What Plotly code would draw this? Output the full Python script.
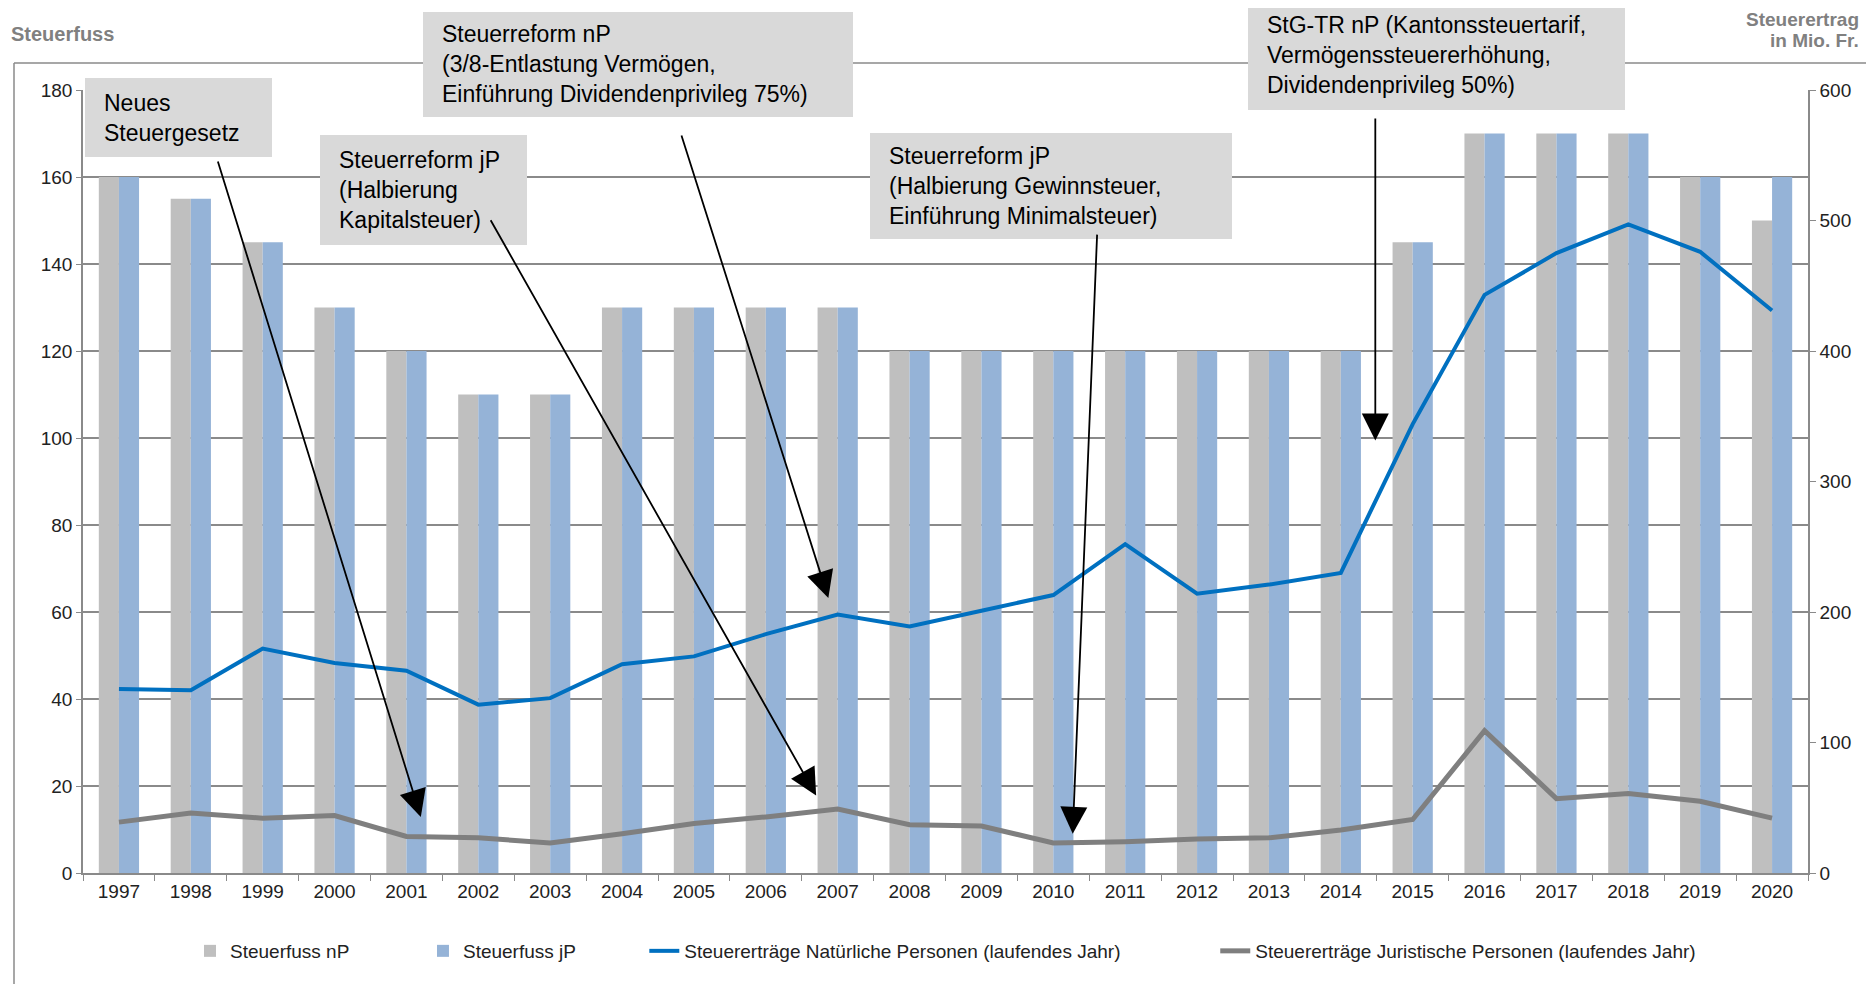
import plotly.graph_objects as go

years = [str(y) for y in range(1997, 2021)]
steuerfuss_np = [160, 155, 145, 130, 120, 110, 110, 130, 130, 130, 130, 120,
                 120, 120, 120, 120, 120, 120, 145, 170, 170, 170, 160, 150]
steuerfuss_jp = [160, 155, 145, 130, 120, 110, 110, 130, 130, 130, 130, 120,
                 120, 120, 120, 120, 120, 120, 145, 170, 170, 170, 160, 160]
ertrag_np = [141, 140, 172, 161, 155, 129, 134, 160, 166, 183, 198, 189,
             201, 213, 252, 214, 221, 230, 344, 443, 475, 497, 476, 431]
ertrag_jp = [39, 46, 42, 44, 28, 27, 23, 30, 38, 43, 49, 37,
             36, 23, 24, 26, 27, 33, 41, 109, 57, 61, 55, 42]

# annotation boxes: text, box in page pixels (x0, y0, x1, y1)
notes = [
    ("Neues<br>Steuergesetz", (85, 78, 272, 157)),
    ("Steuerreform jP<br>(Halbierung<br>Kapitalsteuer)", (320, 135, 527, 245)),
    ("Steuerreform nP<br>(3/8-Entlastung Vermögen,<br>Einführung Dividendenprivileg 75%)", (423, 12, 853, 117)),
    ("Steuerreform jP<br>(Halbierung Gewinnsteuer,<br>Einführung Minimalsteuer)", (870, 133, 1232, 239)),
    ("StG-TR nP (Kantonssteuertarif,<br>Vermögenssteuererhöhung,<br>Dividendenprivileg 50%)", (1248, 0, 1625, 110)),
]
# arrows: tail (category index, left-axis value) -> tip
arrows = [
    ((1.37, 163.9), (4.20, 12.9)),
    ((5.16, 150.4), (9.70, 17.8)),
    ((7.82, 169.9), (9.87, 63.2)),
    ((13.61, 147.1), (13.27, 9.0)),
    ((17.48, 173.8), (17.48, 99.4)),
]

# page is 1874x984, the figure div sits 8px in (body margin)
OFF = 8
W, H = 1874 - OFF, 984 - OFF
X0, X1, Y0, Y1 = 83, 1808, 90, 873   # plot area in page pixels
PW, PH = X1 - X0, Y1 - Y0


def px(x):
    return (x - X0) / PW


def py(y):
    return (Y1 - y) / PH


FONT = "Liberation Sans, Arial, sans-serif"
GRID = "#8a8a8a"
sp = "\u00a0"

fig = go.Figure()
fig.add_trace(go.Bar(x=years, y=steuerfuss_np, name="Steuerfuss nP" + sp * 13,
                     marker=dict(color="#bfbfbf", line=dict(width=0))))
fig.add_trace(go.Bar(x=years, y=steuerfuss_jp, name="Steuerfuss jP" + sp * 12,
                     marker=dict(color="#95b3d7", line=dict(width=0))))
fig.add_trace(go.Scatter(x=years, y=ertrag_np, yaxis="y2", mode="lines",
                         name="Steuererträge Natürliche Personen (laufendes Jahr)" + sp * 17,
                         line=dict(color="#0070c0", width=4)))
fig.add_trace(go.Scatter(x=years, y=ertrag_jp, yaxis="y2", mode="lines",
                         name="Steuererträge Juristische Personen (laufendes Jahr)",
                         line=dict(color="#7f7f7f", width=5)))

shapes = [
    dict(type="line", xref="paper", yref="paper", x0=px(14), x1=px(1900), y0=py(63), y1=py(63),
         line=dict(color=GRID, width=1.5)),
    dict(type="line", xref="paper", yref="paper", x0=px(14), x1=px(14), y0=py(63), y1=py(1000),
         line=dict(color=GRID, width=1.5)),
]
annotations = []
for text, (x0, y0, x1, y1) in notes:
    shapes.append(dict(type="rect", xref="paper", yref="paper", layer="above",
                       x0=px(x0), x1=px(x1), y0=py(y1), y1=py(y0),
                       fillcolor="#d9d9d9", line=dict(width=0)))
    annotations.append(dict(text=text, xref="paper", yref="paper", x=px(x0 + 17), y=py((y0 + y1) / 2),
                            xanchor="left", yanchor="middle", align="left", showarrow=False,
                            font=dict(family=FONT, size=23, color="#000000")))
for (ax, ay), (x, y) in arrows:
    annotations.append(dict(text="", x=x, y=y, ax=ax, ay=ay, xref="x", yref="y", axref="x", ayref="y",
                            showarrow=True, arrowhead=2, arrowsize=3.0, arrowwidth=1.8,
                            arrowcolor="#000000", standoff=0))

annotations.append(dict(text="<b>Steuerfuss</b>", xref="paper", yref="paper", x=px(9), y=py(34),
                        xanchor="left", yanchor="middle", showarrow=False,
                        font=dict(family=FONT, size=20, color="#808080")))
for line, ypos in (("Steuerertrag", 19), ("in Mio. Fr.", 40)):
    annotations.append(dict(text="<b>" + line + "</b>", xref="paper", yref="paper",
                            x=px(1861), y=py(ypos), xanchor="right", yanchor="middle",
                            showarrow=False, font=dict(family=FONT, size=19, color="#808080")))

fig.update_layout(
    width=W, height=H,
    margin=dict(l=X0 - OFF, r=W + OFF - X1, t=Y0 - OFF, b=H + OFF - Y1),
    paper_bgcolor="white", plot_bgcolor="white",
    barmode="group", bargap=0.44, bargroupgap=0,
    font=dict(family=FONT, color="#000000"),
    xaxis=dict(type="category", range=[-0.5, 23.5], tickson="boundaries", ticks="outside",
               ticklen=6, tickcolor=GRID, showline=True, linecolor=GRID, linewidth=1.5,
               tickfont=dict(size=19, color="#222222"), showgrid=False),
    yaxis=dict(range=[0, 180], dtick=20, ticks="outside", ticklen=5, tickcolor=GRID,
               showline=True, linecolor=GRID, linewidth=1.5, gridcolor=GRID, gridwidth=1.5,
               tickfont=dict(size=19, color="#222222"), zeroline=False),
    yaxis2=dict(range=[0, 600], dtick=100, overlaying="y", side="right", ticks="outside",
                ticklen=6, tickcolor=GRID, showline=True, linecolor=GRID, linewidth=1.5,
                showgrid=False, tickfont=dict(size=19, color="#222222"), zeroline=False),
    legend=dict(orientation="h", x=0.5, xanchor="center", y=py(951), yanchor="middle",
                font=dict(size=19, color="#222222"), traceorder="normal"),
    shapes=shapes,
    annotations=annotations,
)

fig.write_html("out.html")
